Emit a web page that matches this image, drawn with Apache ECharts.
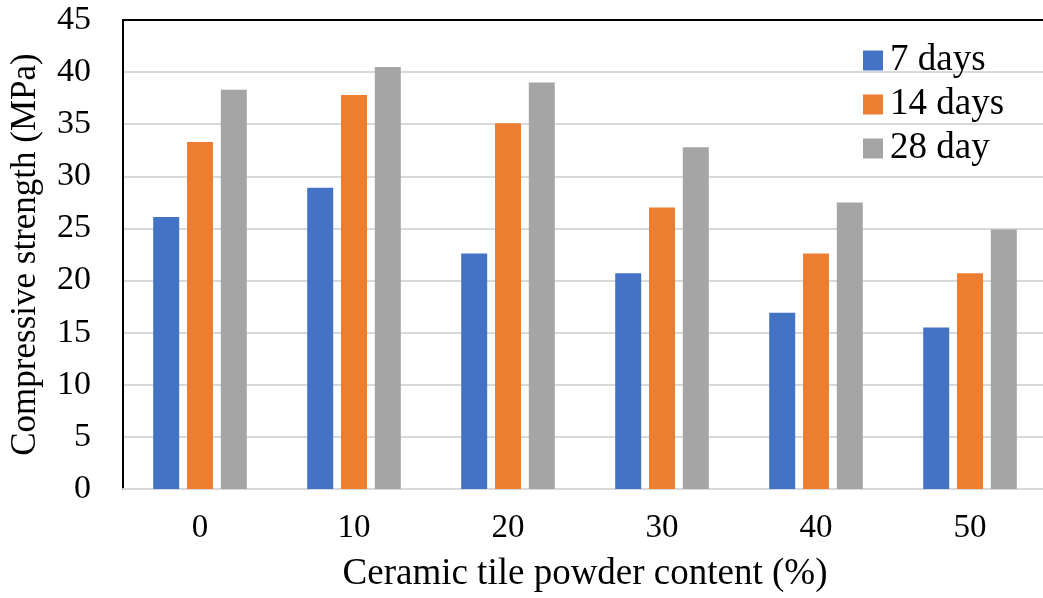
<!DOCTYPE html>
<html>
<head>
<meta charset="utf-8">
<script src="https://cdn.jsdelivr.net/npm/echarts@6/dist/echarts.min.js"></script>
<style>
html,body{margin:0;padding:0;background:#fff;}
#chart{width:1043px;height:598px;}
</style>
</head>
<body>
<div id="chart"></div>
<script>
var categories = ['0', '10', '20', '30', '40', '50'];
var days7 = [26.1, 28.9, 22.6, 20.7, 16.9, 15.5];
var days14 = [33.3, 37.8, 35.1, 27.0, 22.6, 20.7];
var days28 = [38.3, 40.5, 39.0, 32.8, 27.5, 24.9];
var seriesNames = ['7 days', '14 days', '28 day'];
var yTicks = [0, 5, 10, 15, 20, 25, 30, 35, 40, 45];

var FONT = 'Liberation Serif';
var chart = echarts.init(document.getElementById('chart'));
chart.setOption({
  animation: false,
  backgroundColor: '#ffffff',
  color: ['#4472C4', '#ED7D31', '#A5A5A5'],
  grid: { left: 123, top: 20, width: 924, bottom: 109, containLabel: false, outerBoundsMode: 'none' },
  legend: {
    orient: 'vertical',
    left: 858,
    top: 37,
    itemWidth: 20,
    itemHeight: 20,
    itemGap: 7,
    icon: 'rect',
    data: seriesNames,
    textStyle: { fontFamily: FONT, fontSize: 37, color: '#000', lineHeight: 36, padding: [0, 0, 0, 2] }
  },
  xAxis: [{
    type: 'category',
    data: categories,
    name: 'Ceramic tile powder content (%)',
    nameLocation: 'middle',
    nameGap: 67,
    nameTextStyle: { fontFamily: FONT, fontSize: 37, color: '#000' },
    axisLine: { lineStyle: { color: '#d9d9d9', width: 2 } },
    axisTick: { show: false },
    axisLabel: { fontFamily: FONT, fontSize: 33, color: '#000', margin: 23 }
  }, {
    type: 'category',
    data: categories,
    position: 'top',
    axisLine: { lineStyle: { color: '#000', width: 2 } },
    axisTick: { show: false },
    axisLabel: { show: false }
  }],
  yAxis: {
    type: 'value',
    min: yTicks[0],
    max: yTicks[yTicks.length - 1],
    interval: 5,
    name: 'Compressive strength (MPa)',
    nameLocation: 'middle',
    nameGap: 80,
    nameTextStyle: { fontFamily: FONT, fontSize: 35, color: '#000' },
    axisLine: { show: true, lineStyle: { color: '#000', width: 2 } },
    axisTick: { show: false },
    axisLabel: { fontFamily: FONT, fontSize: 34, color: '#000', margin: 32 },
    splitLine: { show: true, lineStyle: { color: '#d9d9d9', width: 2 } }
  },
  series: [
    { name: seriesNames[0], type: 'bar', data: days7, barWidth: 26, barGap: '30%' },
    { name: seriesNames[1], type: 'bar', data: days14, barWidth: 26, barGap: '30%' },
    { name: seriesNames[2], type: 'bar', data: days28, barWidth: 26, barGap: '30%' }
  ]
});
</script>
</body>
</html>
